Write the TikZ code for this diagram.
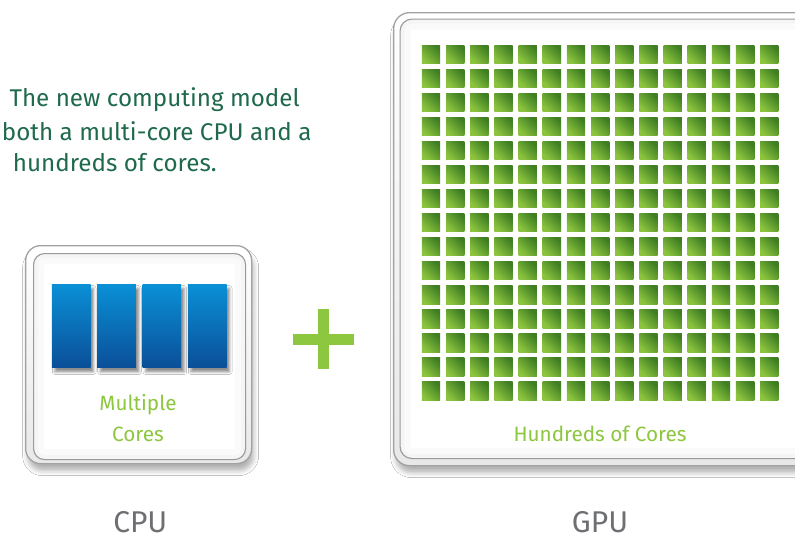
\documentclass[tikz,border=0pt]{standalone}
\usepackage{fontspec}
\setmainfont{Fira Sans}
\usetikzlibrary{shadows.blur}
\definecolor{txtgreen}{HTML}{1F6A4C}
\definecolor{lgreen}{HTML}{8DC63F}
\definecolor{sqlight}{HTML}{8CC43E}
\definecolor{sqdark}{HTML}{3F7E23}
\definecolor{bluetop}{HTML}{0A90D6}
\definecolor{bluebot}{HTML}{0A4F98}
\definecolor{framegray}{HTML}{A2A2A2}
\definecolor{labelgray}{HTML}{6E6F72}
\begin{document}
\begin{tikzpicture}[x=1pt,y=-1pt,
  frameouter/.style={draw=framegray, line width=1.3pt, rounded corners=15pt,
    top color=white, bottom color=gray!18, inner sep=0pt, anchor=north west,
    blur shadow={shadow xshift=2pt, shadow yshift=-7pt, shadow opacity=30, shadow blur radius=5pt}},
  frameinner/.style={draw=framegray, line width=1.1pt, rounded corners=11pt,
    fill=white, inner sep=0pt, anchor=north west},
  corebar/.style={minimum width=38.7pt, minimum height=83.7pt, inner sep=0pt,
    anchor=north west, top color=bluetop, bottom color=bluebot,
    blur shadow={shadow xshift=3pt, shadow yshift=-4pt, shadow opacity=45, shadow blur radius=2.5pt}},
  gcore/.style={minimum size=18.3pt, inner sep=0pt, anchor=north west,
    top color=sqdark, middle color=sqlight!85!sqdark, bottom color=sqlight, shading angle=-45},
  plusbar/.style={fill=lgreen, inner sep=0pt},
  toptext/.style={text=txtgreen, inner sep=0pt, anchor=base west, font=\fontsize{24.2}{29}\selectfont},
  corelabel/.style={text=lgreen, inner sep=0pt, anchor=base, font=\fontsize{20.7}{24}\selectfont},
  chiplabel/.style={text=labelgray, inner sep=0pt, anchor=base, font=\fontsize{30}{34}\selectfont}
]
\useasboundingbox (0,0) rectangle (795,536);
\clip (0,0) rectangle (795,536);
\fill[white] (0,0) rectangle (795,536);

% text
\node[toptext] (t1) at (9.3,106.5) {The new computing model};
\node[toptext] (t2) at (1.7,140) {both a multi-core CPU and a};
\node[toptext] (t3) at (12.7,171.7) {hundreds of cores.};

% CPU frame
\node[frameouter, minimum width=226pt, minimum height=218pt] (cpuouter) at (25,245) {};
\node[frameinner, minimum width=212pt, minimum height=206pt] (cpuinner) at (33,253) {};
\begin{scope}
  \clip[rounded corners=11pt] (cpuinner.north west) rectangle (cpuinner.south east);
  \draw[black, opacity=0.02, line width=22pt, rounded corners=11pt] (cpuinner.north west) rectangle (cpuinner.south east);
  \draw[black, opacity=0.02, line width=10pt, rounded corners=11pt] (cpuinner.north west) rectangle (cpuinner.south east);
\end{scope}
\foreach \k/\x in {1/51.7, 2/97, 3/142.3, 4/187.7}
  \node[corebar] (bar\k) at (\x,284) {};
\node[corelabel] (mult) at (138,410) {Multiple};
\node[corelabel] (cores) at (138,441) {Cores};

% plus
\node[plusbar, minimum width=60.7pt, minimum height=10.8pt] (plush) at (323.7,339.6) {};
\node[plusbar, minimum width=11pt, minimum height=60.3pt] (plusv) at (323.8,339.2) {};

% GPU frame
\node[frameouter, minimum width=430pt, minimum height=453pt, rounded corners=16pt] (gpuouter) at (393,12) {};
\node[frameinner, minimum width=418pt, minimum height=439.5pt, rounded corners=12pt] (gpuinner) at (399.5,18.5) {};
\begin{scope}
  \clip[rounded corners=12pt] (gpuinner.north west) rectangle (gpuinner.south east);
  \draw[black, opacity=0.02, line width=22pt, rounded corners=12pt] (gpuinner.north west) rectangle (gpuinner.south east);
  \draw[black, opacity=0.02, line width=10pt, rounded corners=12pt] (gpuinner.north west) rectangle (gpuinner.south east);
\end{scope}
\foreach \i in {0,...,14}
  \foreach \j in {0,...,14}
    \node[gcore] (sq-\i-\j) at ({421.7+\i*24.16},{45+\j*24.05}) {};
\node[corelabel] (hund) at (600,441) {Hundreds of Cores};

% chip labels
\node[chiplabel] (cpu) at (140.3,532.3) {CPU};
\node[chiplabel] (gpu) at (600,532.3) {GPU};
\end{tikzpicture}
\end{document}
